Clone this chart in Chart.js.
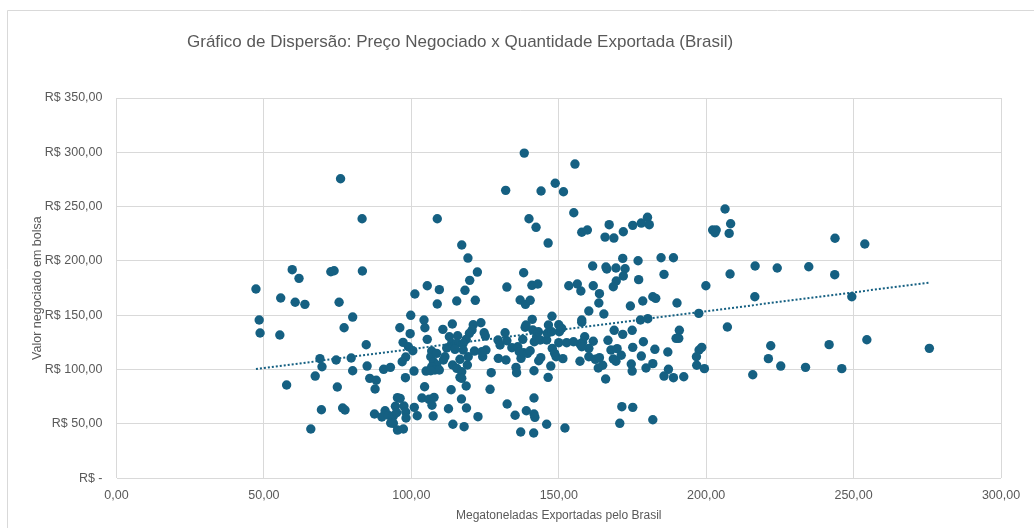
<!DOCTYPE html>
<html lang="pt-BR">
<head>
<meta charset="utf-8">
<title>Gráfico de Dispersão</title>
<script src="https://cdn.jsdelivr.net/npm/chart.js@4.4.1/dist/chart.umd.min.js"></script>
<style>
  html, body { margin: 0; padding: 0; background: #fff; }
  #wrap { width: 1034px; height: 528px; }
</style>
</head>
<body>
<div id="wrap"><canvas id="chart" width="1034" height="528"></canvas></div>
<script>
// Megatoneladas exportadas (eixo x) e preço negociado em R$ (eixo y)
const exportVolumes = [
  76.0, 83.3, 59.6, 61.9, 72.7, 73.8, 83.4, 47.3, 101.2, 55.7,
  60.6, 63.9, 75.5, 80.1, 99.8, 48.4, 77.2, 96.1, 48.7, 55.4,
  99.6, 84.7, 97.2, 99.0, 100.5, 98.1, 96.9, 69.0, 74.5, 79.6,
  69.7, 80.1, 85.0, 90.6, 92.9, 100.9, 67.4, 85.9, 88.1, 98.0,
  57.7, 74.9, 87.7, 95.3, 96.2, 69.5, 76.7, 77.5, 87.5, 91.1,
  90.0, 92.2, 94.6, 97.5, 101.0, 93.9, 95.0, 98.1, 98.2, 102.0,
  93.0, 93.9, 95.3, 97.3, 65.9,
  138.3, 155.5, 132.0, 144.0, 148.8, 151.6, 108.8, 139.9, 142.3, 155.1,
  157.8, 159.7, 117.1, 146.4, 119.2, 122.4, 138.1, 119.8, 105.4, 109.5,
  118.2, 132.4, 140.9, 142.9, 153.4, 156.3, 157.5,
  206.4, 180.1, 180.7, 178.0, 175.1, 208.3, 207.8, 202.2, 203.4, 203.0,
  167.1, 171.9, 165.7, 168.7, 171.7, 176.9, 184.7, 188.9, 161.5, 166.0,
  166.3, 169.4, 172.5, 171.9, 169.5, 168.5, 177.1, 185.7, 161.7, 163.8,
  199.9, 208.1, 216.6, 216.5,
  243.7, 253.8, 224.1, 234.8, 243.6, 249.4,
  221.9, 241.7, 254.5, 275.7, 221.1, 225.3, 233.7, 246.0, 215.8,
  163.6, 160.2, 165.3, 174.3, 178.5, 181.9, 182.9, 190.1, 157.8, 157.8,
  177.7, 180.2, 197.5, 207.2, 168.8, 171.7, 174.9, 190.9, 189.8, 190.7,
  158.8, 158.1, 157.2, 161.7, 166.7, 178.7, 160.2, 157.8, 167.7, 169.8,
  175.1, 182.6, 187.0, 197.6, 198.5, 196.7, 171.2, 178.0, 160.2, 162.4,
  163.8, 168.5, 169.4, 157.2, 163.4, 164.9, 174.6, 174.9, 181.9, 179.6,
  187.2, 196.8, 199.4, 185.7, 188.9, 192.4, 165.9, 171.4, 175.1, 170.7,
  181.9,
  108.8, 115.4, 121.7, 136.9, 138.7, 140.3, 104.3, 104.6, 110.7, 113.9,
  121.0, 123.6, 105.4, 120.6, 119.7, 124.7, 125.1, 115.7, 112.9, 118.6,
  106.9, 106.6, 108.6, 112.0, 111.4, 110.9, 107.5, 108.6, 106.9, 108.0,
  105.0, 109.5, 106.6, 114.0, 116.5, 115.4, 117.1, 116.5, 117.1, 119.0,
  119.3, 121.4, 124.2, 125.3, 113.7, 115.4, 117.6, 117.6, 114.8, 127.1,
  129.4, 130.1, 131.8, 132.4, 129.5, 132.1, 134.1, 136.1, 136.6, 137.2,
  137.8, 138.6, 138.9, 141.0, 135.5, 135.7, 138.1, 139.4, 140.3, 141.2,
  141.7, 142.5, 143.1, 143.7, 141.6, 143.2, 143.9, 146.4, 147.3, 145.9,
  146.1, 146.5, 147.7, 147.8, 148.6, 149.1, 150.0, 150.2, 151.0, 147.6,
  150.0, 151.4, 152.7, 155.0, 126.7, 104.5, 113.5, 118.6, 103.6, 106.0,
  107.7, 107.0, 107.4, 112.6, 117.0, 118.7, 114.1, 117.9, 122.6, 132.5,
  135.2, 139.0, 141.6, 141.6, 141.9, 137.1, 141.5, 145.9, 152.1, 123.9
];

const tradedPrices = [
  275.7, 238.9, 192.0, 184.0, 190.1, 191.0, 190.8, 174.2, 169.6, 165.9,
  162.0, 160.1, 162.0, 148.4, 150.0, 145.7, 138.6, 138.6, 133.7, 131.9,
  133.1, 122.9, 125.1, 121.1, 117.4, 111.6, 107.3, 110.1, 108.9, 110.7,
  102.7, 99.0, 103.3, 100.3, 102.1, 98.7, 94.1, 92.0, 90.2, 92.6,
  85.9, 84.0, 82.2, 74.2, 73.6, 63.1, 64.7, 62.9, 59.2, 62.2,
  56.4, 58.0, 66.3, 66.5, 65.3, 57.3, 60.4, 61.0, 55.5, 57.6,
  50.9, 50.6, 44.4, 45.4, 45.4,
  299.3, 289.2, 265.0, 264.4, 271.5, 263.7, 238.9, 238.9, 231.0, 244.4,
  226.4, 228.5, 214.7, 216.5, 202.7, 189.8, 189.2, 182.2, 177.2, 173.6,
  173.0, 176.0, 177.6, 178.8, 177.2, 178.8, 172.4,
  247.8, 240.2, 233.4, 234.9, 232.8, 234.3, 225.4, 228.5, 228.5, 226.0,
  233.4, 226.9, 222.0, 221.1, 202.4, 200.2, 203.0, 203.0, 195.4, 194.4,
  192.6, 193.5, 192.9, 186.2, 181.6, 176.3, 182.8, 187.7, 177.2, 169.9,
  177.2, 188.0, 195.4, 167.1,
  220.9, 215.6, 193.5, 194.7, 187.4, 167.1,
  122.0, 123.0, 127.5, 119.6, 110.1, 103.3, 102.1, 100.9, 95.3,
  161.3, 154.0, 151.2, 158.6, 163.2, 167.1, 165.6, 161.3, 145.7, 143.6,
  145.7, 146.9, 151.8, 139.2, 136.2, 132.5, 136.2, 136.2, 128.8, 128.8,
  130.3, 125.1, 123.6, 126.1, 127.0, 125.7, 119.6, 121.1, 118.1, 119.3,
  120.5, 118.7, 116.2, 118.1, 120.5, 111.9, 113.2, 112.5, 111.9, 109.5,
  111.0, 109.8, 107.7, 107.7, 101.5, 104.0, 105.2, 98.7, 105.5, 101.5,
  100.3, 104.0, 100.9, 94.1, 92.6, 93.5, 91.4, 65.9, 65.3, 50.6,
  53.9,
  160.4, 163.2, 163.8, 164.1, 160.1, 163.8, 145.7, 138.6, 137.1, 142.0,
  141.3, 143.2, 127.9, 136.5, 133.4, 134.0, 130.9, 131.2, 130.3, 127.9,
  117.1, 111.9, 115.0, 119.9, 111.9, 108.9, 107.3, 104.3, 102.7, 99.7,
  98.7, 99.7, 99.0, 104.3, 109.5, 101.2, 98.1, 92.9, 92.0, 104.3,
  111.9, 117.1, 111.9, 118.1, 124.2, 124.2, 124.2, 118.1, 118.7, 97.2,
  127.3, 122.7, 134.0, 126.6, 110.4, 108.9, 120.2, 121.1, 116.5, 110.4,
  127.9, 139.0, 141.1, 146.3, 102.1, 97.2, 115.6, 115.0, 117.4, 136.5,
  125.7, 130.3, 134.9, 127.3, 99.0, 108.2, 111.0, 92.9, 103.3, 127.3,
  133.4, 141.1, 149.1, 119.6, 115.0, 111.9, 141.3, 134.9, 138.0, 134.9,
  124.8, 110.1, 124.8, 125.7, 81.9, 84.3, 81.5, 84.9, 73.9, 72.7,
  74.5, 67.2, 57.3, 64.0, 73.0, 64.7, 49.7, 47.5, 56.7, 68.4,
  58.0, 62.2, 73.9, 59.2, 56.1, 42.6, 41.7, 49.7, 46.3, 116.5
];

const xTicks = [0, 50, 100, 150, 200, 250, 300];
const yTicks = [0, 50, 100, 150, 200, 250, 300, 350];

const chartTitle = "Gráfico de Dispersão: Preço Negociado x Quantidade Exportada (Brasil)";
const xTitle = "Megatoneladas Exportadas pelo Brasil";
const yTitle = "Valor negociado em bolsa";

const BLUE = "#156082";
const TEXT = "#595959";
const GRID = "#D9D9D9";
const FONT = "'Liberation Sans', Arial, sans-serif";

const fmtNum = (v) => v.toFixed(2).replace(".", ",");
const fmtBRL = (v) => (v === 0 ? "R$ -" : "R$ " + fmtNum(v));

const points = exportVolumes.map((x, i) => ({ x, y: tradedPrices[i] }));

// linha de tendência linear (mínimos quadrados, como no Excel)
function linearTrend(xs, ys) {
  const n = xs.length;
  const mx = xs.reduce((a, b) => a + b, 0) / n;
  const my = ys.reduce((a, b) => a + b, 0) / n;
  let sxy = 0, sxx = 0;
  for (let i = 0; i < n; i++) {
    sxy += (xs[i] - mx) * (ys[i] - my);
    sxx += (xs[i] - mx) * (xs[i] - mx);
  }
  const slope = sxy / sxx;
  const icpt = my - slope * mx;
  const x0 = Math.min(...xs), x1 = Math.max(...xs);
  return [{ x: x0, y: icpt + slope * x0 }, { x: x1, y: icpt + slope * x1 }];
}
const trendPoints = linearTrend(exportVolumes, tradedPrices);

const frameAndTitle = {
  id: "frameAndTitle",
  beforeDraw(chart) {
    const { ctx, width, height } = chart;
    ctx.save();
    ctx.fillStyle = "#fff";
    ctx.fillRect(0, 0, width, height);
    ctx.strokeStyle = GRID;
    ctx.lineWidth = 1;
    ctx.beginPath();
    ctx.moveTo(7.5, height);
    ctx.lineTo(7.5, 10.5);
    ctx.lineTo(width, 10.5);
    ctx.stroke();
    ctx.fillStyle = TEXT;
    ctx.font = "17px " + FONT;
    ctx.textAlign = "left";
    ctx.textBaseline = "middle";
    ctx.fillText(chartTitle, 187, 42);
    ctx.restore();
  },
};

new Chart(document.getElementById("chart").getContext("2d"), {
  type: "scatter",
  data: {
    datasets: [
      {
        type: "line",
        label: "Tendência",
        data: trendPoints,
        borderColor: BLUE,
        borderWidth: 2,
        borderDash: [2, 2],
        pointRadius: 0,
        fill: false,
        order: 0,
      },
      {
        label: "Preço",
        data: points,
        backgroundColor: BLUE,
        borderColor: BLUE,
        borderWidth: 0,
        pointRadius: 4.7,
        order: 1,
      },
    ],
  },
  options: {
    responsive: false,
    devicePixelRatio: 1,
    animation: false,
    layout: { padding: { top: 98, right: 33, bottom: 0, left: 20 } },
    plugins: {
      legend: { display: false },
      tooltip: { enabled: false },
      title: { display: false },
    },
    scales: {
      x: {
        type: "linear",
        min: xTicks[0],
        max: xTicks[xTicks.length - 1],
        afterBuildTicks: (s) => { s.ticks = xTicks.map((v) => ({ value: v })); },
        afterFit: (s) => { s.height = 49.7; },
        grid: { color: GRID, drawTicks: false },
        border: { display: false },
        ticks: {
          padding: 10,
          color: TEXT,
          font: { family: FONT, size: 12.5 },
          callback: (v) => fmtNum(v),
        },
        title: {
          display: true,
          text: xTitle,
          color: TEXT,
          font: { family: FONT, size: 12 },
          padding: { top: 0, bottom: 5.5 },
        },
      },
      y: {
        type: "linear",
        min: yTicks[0],
        max: yTicks[yTicks.length - 1],
        afterBuildTicks: (s) => { s.ticks = yTicks.map((v) => ({ value: v })); },
        afterFit: (s) => { s.width = 96.5; },
        grid: { color: GRID, drawTicks: false },
        border: { display: false },
        ticks: {
          padding: 14,
          color: TEXT,
          font: { family: FONT, size: 12.5 },
          callback: (v) => fmtBRL(v),
        },
        title: {
          display: true,
          text: yTitle,
          color: TEXT,
          font: { family: FONT, size: 12.5 },
          padding: { top: 10, bottom: 0 },
        },
      },
    },
  },
  plugins: [frameAndTitle],
});
</script>
</body>
</html>
